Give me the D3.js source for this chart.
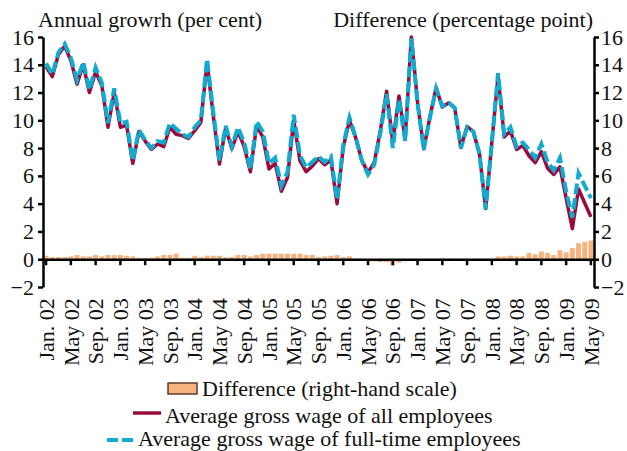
<!DOCTYPE html>
<html>
<head>
<meta charset="utf-8">
<script src="https://cdn.jsdelivr.net/npm/d3@7"></script>
<style>
  body { margin: 0; background: #fff; }
  svg { display: block; font-family: "Liberation Serif", "Times New Roman", serif; }
</style>
</head>
<body>
<svg width="627" height="451"></svg>
<script>
'use strict'

const MONTH_NAMES = ['Jan.', 'Feb.', 'Mar.', 'Apr.', 'May', 'Jun.', 'Jul.', 'Aug.', 'Sep.', 'Oct.', 'Nov.', 'Dec.'];
const YEARS = ['02', '03', '04', '05', '06', '07', '08', '09'];

// Jan. 02 .. May 09
const months = [];
YEARS.forEach(yr => MONTH_NAMES.forEach(m => months.push(m + ' ' + yr)));
months.splice(89);

const tickLabels = [
  'Jan. 02', 'May 02', 'Sep. 02', 'Jan. 03', 'May 03', 'Sep. 03',
  'Jan. 04', 'May 04', 'Sep. 04', 'Jan. 05', 'May 05', 'Sep. 05',
  'Jan. 06', 'May 06', 'Sep. 06', 'Jan. 07', 'May 07', 'Sep. 07',
  'Jan. 08', 'May 08', 'Sep. 08', 'Jan. 09', 'May 09'
];

const yTicks = [-2, 0, 2, 4, 6, 8, 10, 12, 14, 16];

// average gross wage of all employees, annual growth %
const allEmployees = [
  13.85, 13.15, 14.75, 15.35, 14.3, 12.6, 14.0, 12.0, 13.5, 12.5, 9.5, 12.0,
  9.5, 9.65, 6.9, 9.2, 8.5, 7.9, 8.3, 8.1, 9.5, 9.0, 8.9, 8.7,
  9.25, 9.85, 14.15, 10.35, 6.85, 9.45, 7.95, 9.2, 8.1, 6.3, 9.6, 8.8,
  6.5, 6.9, 4.9, 5.9, 10.0, 7.1, 6.3, 6.7, 7.25, 6.8, 7.15, 4.0,
  8.05, 10.0, 8.75, 7.1, 6.25, 6.95, 9.3, 12.1, 8.45, 11.75, 8.65, 16.0,
  11.3, 7.95, 10.25, 12.35, 10.95, 11.25, 10.9, 8.05, 9.55, 9.2, 7.6, 3.65,
  8.4, 13.2, 8.8, 9.25, 7.9, 8.2, 7.45, 6.95, 7.75, 6.55, 6.1, 6.65,
  4.4, 2.2, 5.05, 4.05, 3.05
];

// average gross wage of full-time employees, annual growth %
const fullTime = [
  14.1, 13.3, 14.9, 15.5, 14.5, 12.9, 14.2, 12.2, 13.8, 12.7, 9.8, 12.3,
  9.8, 9.9, 7.1, 9.3, 8.6, 8.0, 8.5, 8.4, 9.8, 9.4, 9.0, 8.8,
  9.5, 10.0, 14.4, 10.6, 7.1, 9.6, 8.1, 9.5, 8.4, 6.5, 9.9, 9.2,
  6.9, 7.3, 5.3, 6.3, 10.4, 7.5, 6.6, 7.0, 7.4, 7.0, 7.4, 4.3,
  8.2, 10.2, 8.8, 7.1, 6.1, 6.8, 9.1, 11.9, 8.0, 11.5, 8.5, 15.9,
  11.2, 7.9, 10.2, 12.3, 11.0, 11.3, 10.9, 8.0, 9.5, 9.2, 7.6, 3.6,
  8.4, 13.4, 9.0, 9.5, 8.1, 8.4, 7.9, 7.3, 8.3, 7.0, 6.4, 7.3,
  4.9, 3.0, 6.2, 5.3, 4.4
];

// difference, percentage point (right-hand scale)
const difference = [
  0.25, 0.15, 0.15, 0.15, 0.2, 0.3, 0.2, 0.2, 0.3, 0.2, 0.3, 0.3,
  0.3, 0.25, 0.2, 0.1, 0.1, 0.1, 0.2, 0.3, 0.3, 0.4, 0.1, 0.1,
  0.25, 0.15, 0.25, 0.25, 0.25, 0.15, 0.15, 0.3, 0.3, 0.2, 0.3, 0.4,
  0.4, 0.4, 0.4, 0.4, 0.4, 0.4, 0.3, 0.3, 0.15, 0.2, 0.25, 0.3,
  0.15, 0.2, 0.05, 0.0, -0.15, -0.15, -0.2, -0.2, -0.45, -0.25, -0.15, -0.1,
  -0.1, -0.05, -0.05, -0.05, 0.05, 0.05, 0.0, -0.05, -0.05, 0.0, 0.0, -0.05,
  0.0, 0.2, 0.2, 0.25, 0.2, 0.2, 0.45, 0.35, 0.55, 0.45, 0.3, 0.65,
  0.5, 0.8, 1.15, 1.25, 1.35
];

const RED = '#9b0a3d';
const CYAN = '#12abd0';
const ORANGE = '#f8b27e';
const FONT = 22;

const svg = d3.select('svg');
const plotLeft = 43, plotRight = 594, plotTop = 37, plotBottom = 287;

const x = d3.scaleBand()
  .domain(months)
  .range([plotLeft, plotRight])
  .paddingInner(0.2)
  .paddingOuter(0.1);

const y = d3.scaleLinear().domain([-2, 16]).range([plotBottom, plotTop]);
const cx = d => x(d) + x.bandwidth() / 2;

// bars
svg.append('g')
  .selectAll('rect')
  .data(months)
  .join('rect')
  .attr('x', d => x(d))
  .attr('width', x.bandwidth())
  .attr('y', (d, i) => y(Math.max(0, difference[i])))
  .attr('height', (d, i) => Math.abs(y(difference[i]) - y(0)))
  .attr('fill', ORANGE);

// x axis along zero line
const xAxis = svg.append('g')
  .attr('transform', `translate(0,${y(0)})`)
  .call(d3.axisBottom(x).tickValues(tickLabels).tickSize(6).tickSizeOuter(0));
xAxis.select('.domain').attr('stroke-width', 2.5);
xAxis.selectAll('.tick line').attr('stroke-width', 2.5);
xAxis.selectAll('.tick text')
  .attr('transform', 'rotate(-90)')
  .attr('x', -39)
  .attr('y', 0)
  .attr('dy', '0.35em')
  .attr('text-anchor', 'end')
  .attr('fill', '#111')
  .style('font-size', FONT + 'px')
  .style('font-family', 'Liberation Serif');

// lines
const line = data => d3.line()
  .x((d, i) => cx(months[i]))
  .y(d => y(d))(data);

svg.append('path')
  .attr('d', line(allEmployees))
  .attr('fill', 'none')
  .attr('stroke', RED)
  .attr('stroke-width', 3.5)
  .attr('stroke-linejoin', 'round');

svg.append('path')
  .attr('d', line(fullTime))
  .attr('fill', 'none')
  .attr('stroke', CYAN)
  .attr('stroke-width', 4)
  .attr('stroke-dasharray', '11 4');

// y axes
function styleAxis(g) {
  g.select('.domain').attr('stroke-width', 2.5);
  g.selectAll('.tick line').attr('stroke-width', 2.5);
  g.selectAll('.tick text')
    .attr('fill', '#111')
    .style('font-size', FONT + 'px')
    .style('font-family', 'Liberation Serif');
}

svg.append('g')
  .attr('transform', `translate(${plotLeft},0)`)
  .call(d3.axisLeft(y).tickValues(yTicks).tickSize(5).tickSizeOuter(0).tickPadding(4))
  .call(styleAxis);

svg.append('g')
  .attr('transform', `translate(${plotRight},0)`)
  .call(d3.axisRight(y).tickValues(yTicks).tickSize(5).tickSizeOuter(0).tickPadding(2))
  .call(styleAxis);

// titles
svg.append('text')
  .attr('x', 38).attr('y', 27)
  .style('font-size', FONT + 'px')
  .attr('fill', '#111')
  .text('Annual growrh (per cent)');

svg.append('text')
  .attr('x', 593).attr('y', 27)
  .attr('text-anchor', 'end')
  .style('font-size', FONT + 'px')
  .attr('fill', '#111')
  .text('Difference (percentage point)');

// legend
const legend = svg.append('g').style('font-size', FONT + 'px').attr('fill', '#111');

legend.append('rect')
  .attr('x', 168).attr('y', 383).attr('width', 29).attr('height', 11)
  .attr('fill', ORANGE).attr('stroke', '#5a3d2e').attr('stroke-width', 1.5);
legend.append('text').attr('x', 202).attr('y', 396).text('Difference (right-hand scale)');

legend.append('line')
  .attr('x1', 133).attr('x2', 161).attr('y1', 413).attr('y2', 413)
  .attr('stroke', RED).attr('stroke-width', 3.5);
legend.append('text').attr('x', 165).attr('y', 423).text('Average gross wage of all employees');

legend.append('line')
  .attr('x1', 107).attr('x2', 133).attr('y1', 440).attr('y2', 440)
  .attr('stroke', CYAN).attr('stroke-width', 4).attr('stroke-dasharray', '11 4');
legend.append('text').attr('x', 138).attr('y', 446).text('Average gross wage of full-time employees');
</script>
</body>
</html>
